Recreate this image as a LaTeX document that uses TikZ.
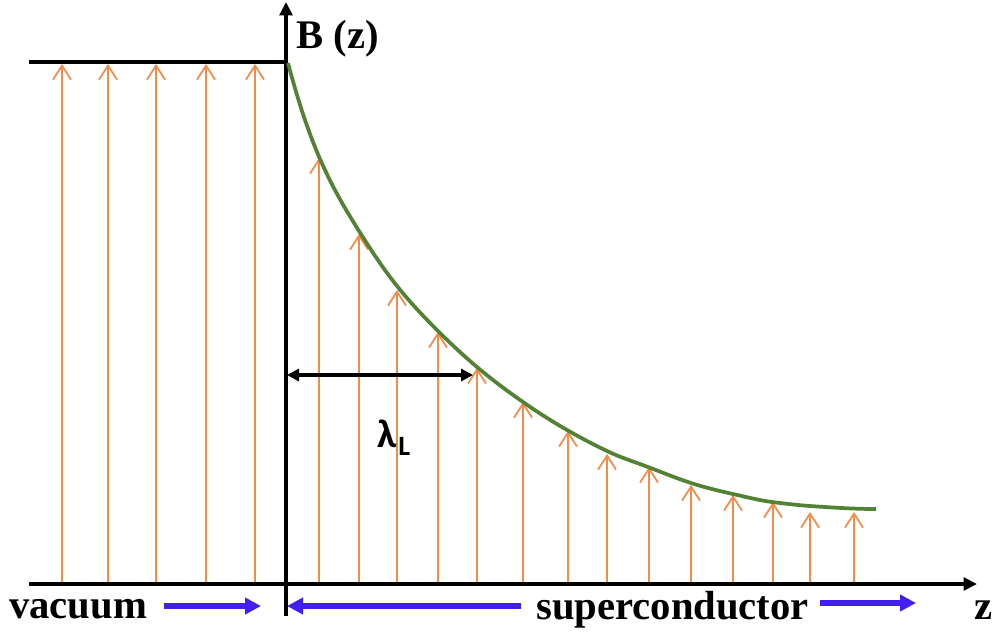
\documentclass[tikz,border=0pt]{standalone}
\usepackage{fontspec}
\setmainfont{Liberation Serif}
\newfontfamily\calib{Carlito}
\usetikzlibrary{arrows.meta}
\definecolor{orangeB}{RGB}{242,140,72}
\definecolor{greenC}{RGB}{84,130,53}
\definecolor{blueA}{RGB}{66,30,240}
\begin{document}
\begin{tikzpicture}[x=0.75pt,y=-0.75pt,
  field/.style={draw=orangeB, line width=1.3pt, -{Straight Barb[length=10.5pt,width=13.5pt]}},
  axisline/.style={line width=2.6pt, -{Triangle[length=10pt,width=9.5pt]}},
  plainline/.style={line width=2.6pt},
  barrow/.style={draw=blueA, line width=4pt, -{Triangle[length=12pt,width=12pt]}},
  lamarrow/.style={line width=2.7pt, {Triangle[length=9pt,width=9pt]}-{Triangle[length=9pt,width=9pt]}},
  lbl/.style={inner sep=0pt, anchor=base west, font=\bfseries\fontsize{30.5}{36}\selectfont},
  curve/.style={draw=greenC, line width=2.8pt}
]
\useasboundingbox (0,0) rectangle (994,636);

% vacuum field arrows
\foreach \x in {62,108,156,206,255}
  \draw[field] (\x,584) -- (\x,64);

% superconductor field arrows
\foreach \x/\t in {319/158, 359/234, 397/290, 438/332, 477/368, 523/402, 568/431, 607/454, 649/467, 691/485, 733/495, 773/502, 810/512, 854/512}
  \draw[field] (\x,584) -- (\x,\t);

% axes
\coordinate (vbot) at (286,616);
\coordinate (vtop) at (286,2);
\coordinate (hleft) at (29,584);
\coordinate (hright) at (977,584);
\coordinate (tleft) at (29,62);
\coordinate (tright) at (286,62);
\draw[axisline] (vbot) -- (vtop);
\draw[axisline] (hleft) -- (hright);
\draw[plainline] (tleft) -- (tright);

% B(z) curve
\draw[curve] (288,63)
  .. controls (298.67,103.5) and (309.33,134.5) .. (320,159)
  .. controls (333,188.9) and (346,210.2) .. (359,231)
  .. controls (371.67,251.3) and (384.33,270.2) .. (397,286)
  .. controls (410.67,303.1) and (424.33,317.3) .. (438,331)
  .. controls (451,344) and (464,356) .. (477,367)
  .. controls (492.33,380) and (507.67,391.3) .. (523,402)
  .. controls (537.67,412.3) and (552.33,421.5) .. (567,430)
  .. controls (580.33,437.7) and (593.67,444.6) .. (607,451)
  .. controls (620.67,457.6) and (634.33,461.8) .. (648,467)
  .. controls (662.33,472.4) and (676.67,478.4) .. (691,483)
  .. controls (705,487.5) and (719,490.9) .. (733,494)
  .. controls (746,496.9) and (759,500.3) .. (772,502)
  .. controls (784.67,503.6) and (797.33,505.1) .. (810,506)
  .. controls (832,507.5) and (854,509) .. (876,509);

% lambda arrow
\coordinate (lamA) at (287,375);
\coordinate (lamB) at (473,375);
\draw[lamarrow] (lamA) -- (lamB);
\node[inner sep=0pt, anchor=base west, font=\calib\bfseries\fontsize{30}{30}\selectfont] (lam) at (377,447) {λ};
\node[inner sep=0pt, anchor=base west, font=\calib\bfseries\fontsize{21}{21}\selectfont] (lamsub) at (398,455) {L};

% labels
\node[lbl] (Bz) at (296,48) {B (z)};
\node[lbl] (vac) at (9,618) {vacuum};
\node[lbl] (sc) at (536,619) {superconductor};
\node[lbl] (zl) at (974,619) {z};

% blue arrows
\coordinate (b1s) at (164,606);
\coordinate (b1e) at (261,606);
\coordinate (b2s) at (521,606);
\coordinate (b2e) at (287,606);
\coordinate (b3s) at (820,603);
\coordinate (b3e) at (916,603);
\draw[barrow] (b1s) -- (b1e);
\draw[barrow] (b2s) -- (b2e);
\draw[barrow] (b3s) -- (b3e);
\end{tikzpicture}
\end{document}
